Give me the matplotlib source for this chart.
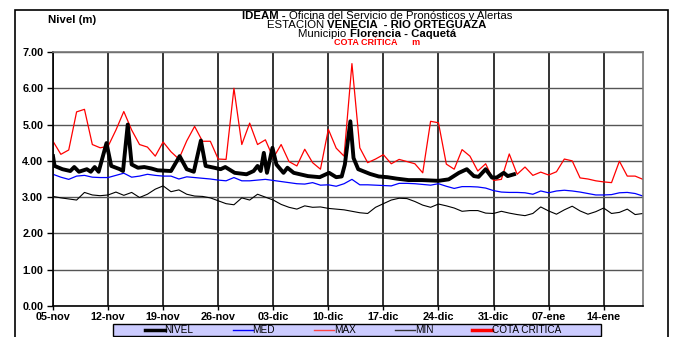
import numpy as np
import matplotlib
matplotlib.use("Agg")
import matplotlib.pyplot as plt
from matplotlib.lines import Line2D
from matplotlib.patches import Rectangle

plt.rcParams['font.family'] = ['Liberation Sans', 'DejaVu Sans']

# etiquetas del eje x (cada 7 dias desde 05-nov)
fechas = ["05-nov", "12-nov", "19-nov", "26-nov", "03-dic", "10-dic",
          "17-dic", "24-dic", "31-dic", "07-ene", "14-ene"]
n_dias = 75

# valores diarios historicos (dia 0 = 05-nov)
niv_max = [4.54, 4.18, 4.30, 5.35, 5.42, 4.45, 4.36, 4.40, 4.85, 5.36,
           4.85, 4.45, 4.38, 4.13, 4.52, 4.25, 4.05, 4.55, 4.95, 4.54,
           4.54, 4.05, 4.04, 6.00, 4.45, 5.04, 4.45, 4.58, 4.08, 4.45,
           3.98, 3.86, 4.32, 3.95, 3.77, 4.87, 4.35, 4.13, 6.68, 4.36,
           3.95, 4.05, 4.17, 3.92, 4.04, 3.98, 3.92, 3.67, 5.09, 5.05,
           3.91, 3.77, 4.31, 4.13, 3.72, 3.92, 3.46, 3.49, 4.19, 3.63,
           3.83, 3.60, 3.69, 3.61, 3.70, 4.05, 4.00, 3.53, 3.50, 3.45,
           3.42, 3.40, 3.99, 3.58, 3.58, 3.49]
niv_med = [3.63, 3.55, 3.49, 3.58, 3.60, 3.55, 3.54, 3.54, 3.60, 3.66,
           3.55, 3.58, 3.63, 3.60, 3.58, 3.58, 3.50, 3.56, 3.54, 3.52,
           3.50, 3.47, 3.45, 3.54, 3.45, 3.45, 3.47, 3.49, 3.46, 3.43,
           3.40, 3.37, 3.36, 3.40, 3.33, 3.34, 3.30, 3.37, 3.49, 3.34,
           3.34, 3.33, 3.32, 3.31, 3.38, 3.38, 3.37, 3.35, 3.33, 3.37,
           3.30, 3.24, 3.29, 3.29, 3.28, 3.25, 3.18, 3.14, 3.13, 3.13,
           3.12, 3.08, 3.17, 3.12, 3.17, 3.19, 3.17, 3.14, 3.10, 3.06,
           3.06, 3.07, 3.12, 3.13, 3.10, 3.03]
niv_min = [3.02, 2.98, 2.95, 2.92, 3.13, 3.06, 3.04, 3.06, 3.14, 3.05,
           3.13, 2.99, 3.08, 3.22, 3.31, 3.15, 3.20, 3.08, 3.03, 3.02,
           2.98, 2.90, 2.82, 2.79, 2.98, 2.92, 3.08, 3.00, 2.92, 2.80,
           2.72, 2.67, 2.76, 2.72, 2.73, 2.69, 2.67, 2.65, 2.61, 2.57,
           2.55, 2.72, 2.82, 2.92, 2.97, 2.96, 2.88, 2.78, 2.72, 2.81,
           2.76, 2.70, 2.61, 2.63, 2.63, 2.56, 2.55, 2.61, 2.56, 2.52,
           2.49, 2.55, 2.73, 2.62, 2.53, 2.65, 2.75, 2.62, 2.53, 2.60,
           2.70, 2.55, 2.58, 2.67, 2.52, 2.55]

# nivel observado (dias desde 05-nov, con lecturas intermedias)
nivel_dias = [0, 0.2, 1.2, 2.2, 2.7, 3.3, 4.3, 4.8, 5.3, 5.8, 6.8, 7.4, 8.5,
              8.9, 9.5, 10.0, 10.8, 11.6, 12.5, 13.3, 15.0, 16.1, 17.0,
              17.9, 18.8, 19.4, 20.5, 21.3, 21.9, 23.1, 24.6, 25.5, 26.0,
              26.4, 26.8, 27.2, 27.9, 28.4, 29.3, 29.8, 30.6, 32.4, 33.9,
              35.1, 36.0, 36.7, 37.1, 37.8, 38.2, 38.8, 40.3, 41.4, 42.5,
              43.7, 45.2, 46.9, 49.0, 50.3, 51.6, 52.6, 53.5, 54.1, 55.0,
              55.8, 56.4, 57.3, 57.8, 58.6]
nivel = [4.13, 3.86, 3.77, 3.72, 3.83, 3.70, 3.77, 3.70, 3.83, 3.70, 4.49,
         3.86, 3.77, 3.72, 5.00, 3.90, 3.81, 3.83, 3.79, 3.74, 3.72, 4.13,
         3.77, 3.70, 4.56, 3.86, 3.81, 3.77, 3.83, 3.67, 3.63, 3.72, 3.86,
         3.72, 4.22, 3.67, 4.36, 3.90, 3.67, 3.81, 3.67, 3.58, 3.55, 3.67,
         3.55, 3.57, 3.90, 5.09, 4.08, 3.77, 3.64, 3.57, 3.55, 3.51, 3.47,
         3.47, 3.45, 3.49, 3.67, 3.77, 3.58, 3.56, 3.77, 3.54, 3.54, 3.67,
         3.58, 3.63]

W, H = 677, 337
fig = plt.figure(figsize=(W / 100, H / 100), dpi=100)
ax = fig.add_axes([53 / W, 1 - 306 / H, (643 - 53) / W, (306 - 52) / H])

dias = np.arange(len(niv_max))
ax.plot(dias, niv_max, color='#FF0000', lw=0.9)
ax.plot(dias, niv_med, color='#0000FF', lw=0.9)
ax.plot(dias, niv_min, color='#000000', lw=0.8)
ax.plot(nivel_dias, nivel, color='black', lw=2.8, solid_joinstyle='round')

ax.set_xlim(0, n_dias)
ax.set_ylim(0, 7)
ax.set_xticks(np.arange(0, 71, 7))
ax.set_xticklabels(fechas, fontsize=7.8, fontweight='bold')
ax.set_yticks(np.arange(0, 8))
ax.set_yticklabels(["%.2f" % v for v in range(8)], fontsize=7.8, fontweight='bold')
ax.tick_params(axis='x', length=3, width=1, pad=1)
ax.tick_params(axis='y', length=4, width=1, pad=3)

ax.grid(axis='y', color='#555555', lw=1)
ax.grid(axis='x', color='#111111', lw=1.2)
ax.set_axisbelow(True)
for s in ['top', 'right']:
    ax.spines[s].set_color('#777777')
    ax.spines[s].set_linewidth(1.2)
for s in ['left', 'bottom']:
    ax.spines[s].set_color('black')
    ax.spines[s].set_linewidth(1.2)

# marco exterior
fig.patches.append(Rectangle((15 / W, -0.1), (668 - 15) / W, 1.1 - 10 / H,
                             transform=fig.transFigure, fill=False,
                             edgecolor='black', lw=1.2))

# titulos con partes en negrita
renderer = fig.canvas.get_renderer()


def texto_mixto(y_px, partes, size, color='black', cx_px=377):
    objs = [fig.text(0, 1 - y_px / H, t, fontsize=size, fontweight=w,
                     color=color, ha='left', va='center') for t, w in partes]
    anchos = [o.get_window_extent(renderer).width for o in objs]
    x = cx_px - sum(anchos) / 2
    for o, a in zip(objs, anchos):
        o.set_x(x / W)
        x += a


texto_mixto(16, [("IDEAM - ", 'bold'),
                 ("Oficina del Servicio de Pronósticos y Alertas", 'normal')], 8.2)
texto_mixto(25.3, [("ESTACIÓN ", 'normal'),
                   ("VENECIA  - RIO ORTEGUAZA", 'bold')], 8.2)
texto_mixto(34.4, [("Municipio ", 'normal'),
                   ("Florencia - Caquetá", 'bold')], 8.2)
texto_mixto(42.6, [("COTA CRÍTICA      m", 'bold')], 6.5, color='#FF0000')
fig.text(48 / W, 1 - 20 / H, "Nivel (m)", ha='left', va='center',
         fontsize=8.2, fontweight='bold')

# leyenda
fig.patches.append(Rectangle((113 / W, 1 - 336 / H), (601 - 113) / W, 12 / H,
                             transform=fig.transFigure, facecolor='#CCCCFF',
                             edgecolor='black', lw=1))
handles = [Line2D([], [], color='black', lw=2.5),
           Line2D([], [], color='#0000FF', lw=1),
           Line2D([], [], color='#FF4444', lw=1),
           Line2D([], [], color='#333333', lw=1),
           Line2D([], [], color='#FF0000', lw=2.5)]
labels = ["NIVEL", "MED", "MAX", "MIN", "COTA CRITICA"]
leg = fig.legend(handles, labels, loc='center', ncol=5,
                 bbox_to_anchor=(353 / W, 1 - 330 / H), fontsize=7.2,
                 frameon=False, handlelength=2.0, handletextpad=0.0,
                 columnspacing=3.9, borderpad=0.0)

fig.savefig("out.png", dpi=100)
